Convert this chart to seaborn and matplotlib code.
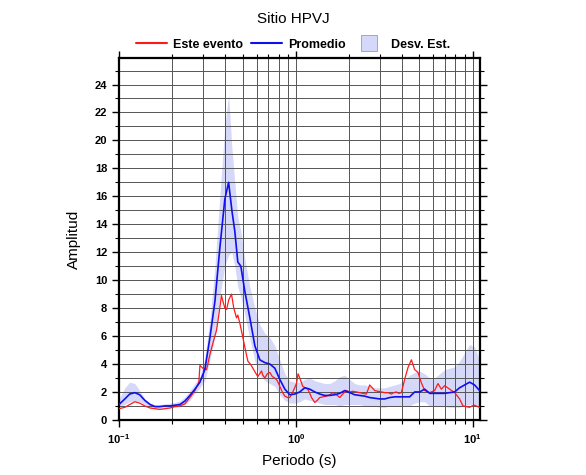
import matplotlib
matplotlib.use("Agg")
import matplotlib.pyplot as plt
from matplotlib.ticker import LogLocator, MultipleLocator
from matplotlib.lines import Line2D
import pandas as pd
import numpy as np
import seaborn as sns

# Promedio + desviacion estandar (periodos en s)
periodo_prom = [0.100, 0.108, 0.115, 0.123, 0.131, 0.140, 0.150, 0.160, 0.170, 0.182,
                0.194, 0.207, 0.221, 0.236, 0.252, 0.269, 0.287, 0.306, 0.327, 0.349,
                0.372, 0.397, 0.417, 0.435, 0.452, 0.470, 0.489, 0.515, 0.550, 0.587,
                0.626, 0.668, 0.713, 0.761, 0.812, 0.867, 0.925, 0.987, 1.053, 1.124,
                1.200, 1.281, 1.367, 1.458, 1.556, 1.661, 1.773, 1.892, 2.019, 2.154,
                2.299, 2.453, 2.618, 2.794, 2.982, 3.182, 3.396, 3.624, 3.868, 4.128,
                4.406, 4.702, 5.018, 5.355, 5.715, 6.099, 6.509, 6.947, 7.414, 7.912,
                8.444, 9.012, 9.618, 10.26, 10.95]
promedio = [1.1, 1.5, 1.85, 1.95, 1.8, 1.4, 1.1, 0.95, 0.95, 1.0,
            1.0, 1.05, 1.1, 1.35, 1.75, 2.2, 2.7, 3.6, 5.9, 8.5,
            12.3, 15.8, 17.0, 15.0, 13.5, 11.3, 11.0, 9.2, 7.3, 5.3,
            4.3, 4.1, 4.0, 3.7, 2.9, 2.2, 1.8, 1.85, 2.0, 2.3,
            2.2, 2.0, 1.85, 1.75, 1.75, 1.8, 1.9, 2.1, 1.95, 1.8,
            1.75, 1.7, 1.6, 1.55, 1.5, 1.5, 1.6, 1.65, 1.65, 1.65,
            1.65, 2.0, 2.0, 2.2, 1.9, 1.9, 1.9, 1.9, 1.95, 2.0,
            2.3, 2.5, 2.7, 2.5, 2.1]
desv_sup = [1.5, 2.3, 2.7, 2.6, 2.1, 1.5, 1.2, 1.1, 1.1, 1.15,
            1.2, 1.25, 1.35, 1.65, 2.1, 2.6, 3.1, 4.4, 7.2, 11.0,
            16.0, 21.0, 23.3, 19.5, 17.0, 14.5, 13.5, 11.5, 9.5, 8.0,
            6.8, 6.2, 5.9, 5.3, 4.3, 3.3, 2.8, 2.7, 2.7, 2.9,
            3.0, 2.8, 2.7, 2.6, 2.6, 2.8, 3.1, 3.2, 2.9, 2.6,
            2.5, 2.5, 2.4, 2.3, 2.3, 2.3, 2.4, 2.5, 2.6, 2.9,
            3.2, 3.4, 3.5, 3.3, 3.0, 3.0, 3.3, 3.6, 3.7, 3.8,
            4.2, 4.8, 5.4, 5.2, 4.3]
desv_inf = [0.9, 1.1, 1.3, 1.35, 1.3, 1.1, 0.9, 0.8, 0.8, 0.85,
            0.85, 0.9, 0.95, 1.1, 1.4, 1.9, 2.3, 2.8, 4.3, 6.0,
            8.8, 11.0, 11.8, 12.0, 11.0, 9.5, 8.8, 7.5, 5.8, 4.2,
            3.2, 2.8, 2.6, 2.4, 1.8, 1.4, 1.2, 1.2, 1.3, 1.5,
            1.4, 1.3, 1.2, 1.1, 1.1, 1.1, 1.0, 1.1, 1.1, 1.1,
            1.1, 1.0, 1.0, 1.0, 0.9, 0.9, 1.0, 1.0, 1.0, 1.0,
            1.0, 1.2, 1.3, 1.3, 1.0, 0.95, 0.95, 0.95, 0.9, 0.9,
            0.9, 1.0, 1.1, 1.0, 0.9]

# Este evento
periodo_ev = [0.100, 0.108, 0.115, 0.123, 0.131, 0.140, 0.150, 0.160, 0.170, 0.182,
              0.194, 0.207, 0.221, 0.236, 0.252, 0.269, 0.283, 0.287, 0.298, 0.313,
              0.327, 0.340, 0.356, 0.367, 0.380, 0.387, 0.397, 0.406, 0.418, 0.433,
              0.446, 0.462, 0.470, 0.483, 0.502, 0.519, 0.536, 0.553, 0.572, 0.590,
              0.610, 0.640, 0.651, 0.668, 0.690, 0.713, 0.737, 0.761, 0.786, 0.812,
              0.839, 0.867, 0.901, 0.925, 0.962, 1.009, 1.030, 1.053, 1.095, 1.131,
              1.169, 1.200, 1.227, 1.281, 1.323, 1.367, 1.421, 1.491, 1.556, 1.624,
              1.698, 1.773, 1.843, 1.934, 2.019, 2.099, 2.202, 2.299, 2.390, 2.508,
              2.567, 2.618, 2.705, 2.794, 2.906, 3.050, 3.182, 3.323, 3.473, 3.578,
              3.706, 3.818, 3.955, 4.128, 4.311, 4.505, 4.702, 4.909, 5.131, 5.355,
              5.715, 6.099, 6.368, 6.656, 6.947, 7.414, 7.912, 8.444, 8.815, 9.213,
              9.618, 9.936, 10.26, 10.67, 10.95]
este_evento = [0.8, 0.9, 1.1, 1.3, 1.2, 1.0, 0.85, 0.8, 0.75, 0.8,
               0.85, 0.95, 1.0, 1.15, 1.6, 2.1, 2.7, 3.9, 3.7, 3.6,
               4.7, 5.5, 6.4, 7.5, 8.9, 8.5, 8.0, 7.9, 8.6, 9.0,
               8.0, 7.3, 7.5, 6.9, 5.9, 5.0, 4.2, 4.0, 3.7, 3.4,
               3.1, 3.5, 3.2, 3.0, 3.3, 3.4, 3.1, 3.0, 2.8, 2.4,
               2.0, 1.7, 1.6, 1.6, 2.0, 2.6, 3.3, 3.0, 2.4, 2.3,
               2.2, 1.9, 1.6, 1.25, 1.4, 1.6, 1.65, 1.7, 1.8, 1.95,
               1.8, 1.6, 1.85, 2.1, 2.0, 2.05, 2.0, 1.95, 1.9, 1.85,
               2.2, 2.5, 2.3, 2.1, 2.05, 2.0, 1.95, 1.95, 1.85, 1.95,
               2.0, 1.9, 1.95, 2.9, 3.75, 4.3, 3.6, 3.4, 2.65, 2.1,
               1.95, 2.1, 2.6, 2.2, 2.45, 2.2, 1.95, 1.5, 1.0, 0.95,
               0.9, 1.0, 1.05, 0.95, 0.9]

prom = pd.DataFrame({"Periodo": periodo_prom, "Amplitud": promedio,
                     "sup": desv_sup, "inf": desv_inf})
ev = pd.DataFrame({"Periodo": periodo_ev, "Amplitud": este_evento})

sns.set_theme(style="white")
plt.rcParams["font.family"] = ["Liberation Sans", "DejaVu Sans"]
plt.rcParams["text.color"] = "black"
plt.rcParams["axes.labelcolor"] = "black"
plt.rcParams["mathtext.fontset"] = "custom"
plt.rcParams["mathtext.rm"] = "Liberation Sans"
plt.rcParams["mathtext.it"] = "Liberation Sans:italic"
plt.rcParams["mathtext.bf"] = "Liberation Sans:bold"

fig = plt.figure(figsize=(5.86, 4.75), dpi=100)
ax = fig.add_axes([0.203, 0.116, 0.616, 0.762])

banda = "#d5d8f8"
ax.fill_between(prom["Periodo"], prom["inf"], prom["sup"], color=banda, lw=0, zorder=1)
sns.lineplot(data=ev, x="Periodo", y="Amplitud", ax=ax, color="#ff1a1a", lw=0.9,
             estimator=None, sort=False, zorder=3)
sns.lineplot(data=prom, x="Periodo", y="Amplitud", ax=ax, color="#1010ee", lw=1.2,
             estimator=None, sort=False, zorder=4)

ax.set_xscale("log")
ax.set_xlim(0.1, 11)
ax.set_ylim(0, 25.9)
ax.yaxis.set_major_locator(MultipleLocator(2))
ax.yaxis.set_minor_locator(MultipleLocator(1))
ax.xaxis.set_major_locator(LogLocator(base=10))
ax.xaxis.set_minor_locator(LogLocator(base=10, subs=np.arange(2, 10)))
ax.xaxis.set_minor_formatter(plt.NullFormatter())

ax.set_axisbelow("line")
ax.grid(True, which="both", color="#555555", lw=0.7)

for s in ax.spines.values():
    s.set_color("black")
    s.set_linewidth(1.6)

ax.tick_params(which="both", direction="out", top=True, right=True,
               bottom=True, left=True, colors="black", labelsize=8)
ax.tick_params(which="major", length=5, width=1)
ax.tick_params(which="minor", length=3, width=0.8)
for lab in ax.get_yticklabels() + ax.get_xticklabels():
    lab.set_fontweight("bold")

ax.set_xlabel("Periodo (s)", fontsize=11, labelpad=6)
ax.set_ylabel("Amplitud", fontsize=11, labelpad=10)
fig.suptitle("Sitio HPVJ", fontsize=11, y=0.975)

handles = [Line2D([], [], color="#ff1a1a", lw=1.5),
           Line2D([], [], color="#1010ee", lw=1.5),
           Line2D([], [], ls="none", marker="s", markersize=12,
                  markerfacecolor=banda, markeredgecolor="#9a9ab0",
                  markeredgewidth=0.6)]
fig.legend(handles, ["Este evento", "Promedio", "Desv. Est."], loc="center",
           bbox_to_anchor=(0.5, 0.906), ncol=3, frameon=False,
           prop={"weight": "bold", "size": 9}, handlelength=2.5,
           columnspacing=0.6, handletextpad=0.5)

fig.savefig("out.png", dpi=100)
